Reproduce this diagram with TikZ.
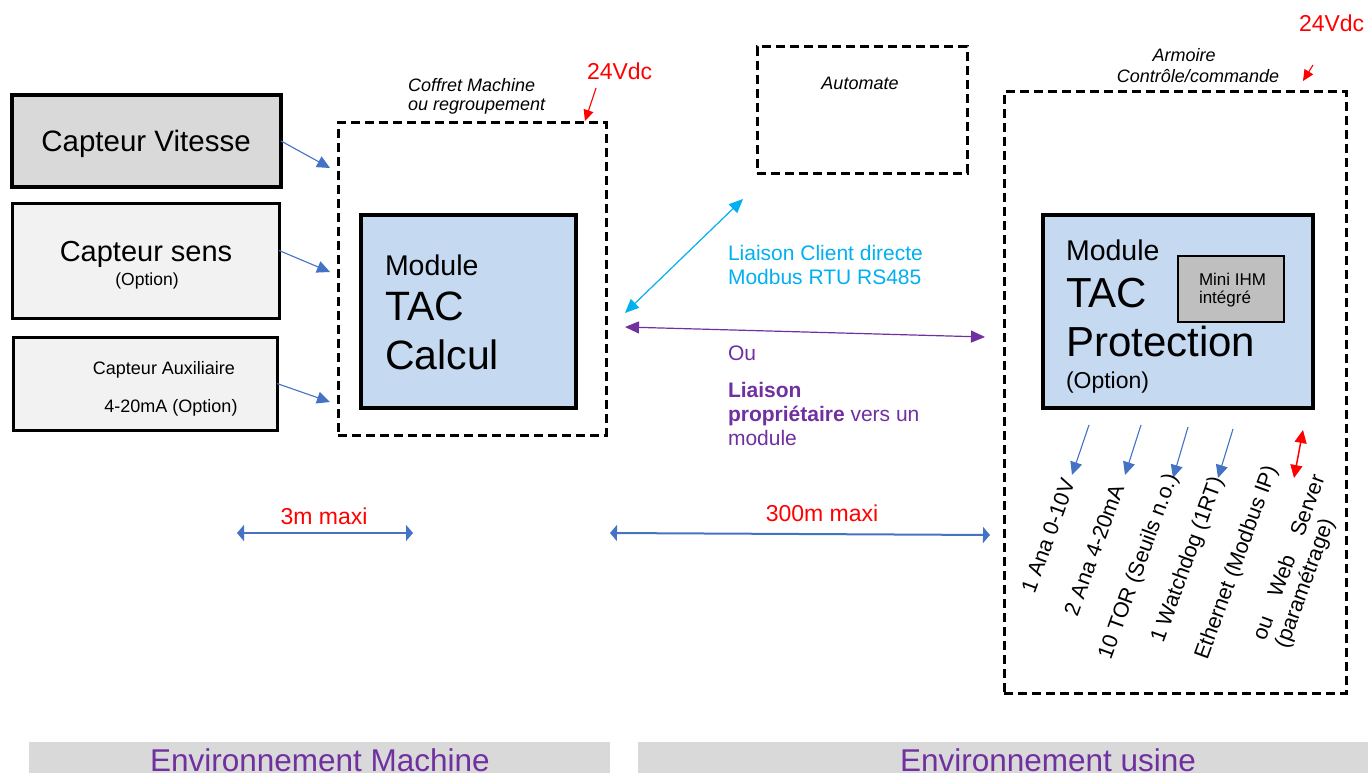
\documentclass[tikz,border=0pt]{standalone}
\usepackage{fontspec}
\setmainfont{Liberation Sans}
\usepackage{tikz}
\usetikzlibrary{arrows.meta}

\definecolor{sigblue}{HTML}{4472C4}
\definecolor{linkcyan}{HTML}{00B0F0}
\definecolor{linkpurple}{HTML}{7030A0}
\definecolor{boxgray}{HTML}{D9D9D9}
\definecolor{boxlight}{HTML}{F2F2F2}
\definecolor{modblue}{HTML}{C5D9F1}
\definecolor{ihmgray}{HTML}{BFBFBF}

\newcommand{\fsz}[1]{\fontsize{#1}{#1}\selectfont}

\begin{document}
\begin{tikzpicture}[x=1pt,y=-1pt,>={Triangle[length=13pt,width=12pt]},
  every node/.style={inner sep=0pt,outer sep=0pt},
  sensor/.style={draw,line width=3pt,fill=boxlight},
  module/.style={draw,line width=4.5pt,fill=modblue},
  cabinet/.style={draw,line width=3pt,dash pattern=on 9pt off 5pt},
  sig/.style={->,sigblue,line width=1.1pt},
  pow/.style={->,red,line width=1.1pt,>={Triangle[length=11pt,width=10pt]}},
  dist/.style={<->,sigblue,line width=2pt,>={Triangle[length=7pt,width=16pt]}},
  txt/.style={anchor=base west},
  ctxt/.style={anchor=base},
  vlabel/.style={rotate=70,font=\fsz{21.5},align=left}]
  \useasboundingbox (0,0) rectangle (1368,773);
  \clip (0,0) rectangle (1368,773);
  \fill[white] (0,0) rectangle (1368,773);

  % capteurs
  \node[sensor,fill=boxgray,line width=4.5pt,minimum width=269pt,minimum height=92pt] (vit) at (146.5,141) {};
  \node[ctxt,font=\fsz{29.5}] (vitT) at (146,151) {Capteur Vitesse};
  \node[sensor,minimum width=267pt,minimum height=115pt] (sens) at (145.5,260.5) {};
  \node[ctxt,font=\fsz{29}] (sensT) at (146,261) {Capteur sens};
  \node[ctxt,font=\fsz{17.5}] (sensO) at (147,285) {(Option)};
  \node[sensor,minimum width=264pt,minimum height=93pt] (aux) at (145,383.5) {};
  \node[ctxt,font=\fsz{18}] (auxT) at (164,374) {Capteur Auxiliaire};
  \node[ctxt,font=\fsz{18}] (auxO) at (171,412) {4-20mA (Option)};

  % coffret machine
  \node[cabinet,minimum width=268pt,minimum height=312pt] (coffret) at (472,279) {};
  \node[txt,font=\fsz{18}\itshape] (coffT) at (408,92) {Coffret Machine};
  \node[txt,font=\fsz{18}\itshape] (coffT2) at (408,111) {ou regroupement};
  \node[txt,font=\fsz{23},red] (vdcA) at (587,80) {24Vdc};
  \node[module,minimum width=215pt,minimum height=193pt] (calc) at (468.5,311.5) {};
  \node[txt,font=\fsz{28.5}] (calcA) at (385,275) {Module};
  \node[txt,font=\fsz{41}] (calcB) at (385,320) {TAC};
  \node[txt,font=\fsz{41}] (calcC) at (385,369) {Calcul};

  \coordinate (vitin) at (330,168);
  \coordinate (sensin) at (330,272);
  \coordinate (auxin) at (330,402);
  \draw[sig] (vit.east) -- (vitin);
  \draw[sig] ([yshift=10pt]sens.east) -- (sensin);
  \draw[sig] (aux.east) -- (auxin);
  \coordinate (pwA) at (596,88);
  \coordinate (pwAe) at (585,121);
  \draw[pow] (pwA) -- (pwAe);

  % automate
  \node[cabinet,minimum width=210pt,minimum height=126pt] (plc) at (862,110) {};
  \node[ctxt,font=\fsz{18}\itshape] (plcT) at (860,90) {Automate};

  % liaisons
  \coordinate (cyA) at (625,313);
  \coordinate (cyB) at (743,199);
  \draw[<->,linkcyan,line width=1.2pt,>={Triangle[length=14pt,width=12pt]}] (cyA) -- (cyB);
  \coordinate (puA) at (625,327);
  \coordinate (puB) at (985,337);
  \draw[<->,linkpurple,line width=1.2pt,>={Triangle[length=14pt,width=12pt]}] (puA) -- (puB);
  \node[txt,font=\fsz{21},linkcyan] (lcA) at (728,260) {Liaison Client directe};
  \node[txt,font=\fsz{21},linkcyan] (lcB) at (728,284) {Modbus RTU RS485};
  \node[txt,font=\fsz{21},linkpurple] (ouT) at (728,360) {Ou};
  \node[txt,font=\fsz{21}\bfseries,linkpurple] (lpA) at (728,397) {Liaison};
  \node[txt,font=\fsz{21},linkpurple] (lpB) at (728,421) {\textbf{propriétaire} vers un};
  \node[txt,font=\fsz{21},linkpurple] (lpC) at (728,445) {module};

  % armoire
  \node[cabinet,minimum width=342pt,minimum height=601pt] (armoire) at (1175,392.5) {};
  \node[ctxt,font=\fsz{18}\itshape] (armT) at (1184,62) {Armoire};
  \node[ctxt,font=\fsz{18}\itshape] (armT2) at (1198,83) {Contrôle/commande};
  \node[txt,font=\fsz{23},red] (vdcB) at (1299,32) {24Vdc};
  \coordinate (pwB) at (1313,65);
  \coordinate (pwBe) at (1303,81);
  \draw[pow] (pwB) -- (pwBe);
  \node[module,minimum width=270pt,minimum height=193pt] (prot) at (1178,311.5) {};
  \node[txt,font=\fsz{28.5}] (protA) at (1066,260) {Module};
  \node[txt,font=\fsz{42}] (protB) at (1066,307) {TAC};
  \node[txt,font=\fsz{42}] (protC) at (1066,356) {Protection};
  \node[txt,font=\fsz{23}] (protD) at (1066,388) {(Option)};
  \node[draw,line width=2pt,fill=ihmgray,minimum width=106pt,minimum height=66pt] (ihm) at (1231,289) {};
  \node[txt,font=\fsz{17}] (ihmA) at (1199,285) {Mini IHM};
  \node[txt,font=\fsz{17}] (ihmB) at (1199,303) {intégré};

  % sorties
  \foreach \i/\xa/\ya/\xb/\yb in {1/1089/425/1072/475,2/1141/425/1125/475,3/1188/427/1173/478,4/1233/429/1218/478}{
    \coordinate (out\i) at (\xa,\ya);
    \coordinate (out\i e) at (\xb,\yb);
    \draw[sig] (out\i) -- (out\i e);
  }
  \coordinate (web) at (1303,430);
  \coordinate (webe) at (1294,478);
  \draw[<->,red,line width=1.5pt,>={Triangle[length=13pt,width=12pt]}] (web) -- (webe);
  \node[vlabel] (oA) at (1048,536) {1 Ana 0-10V};
  \node[vlabel] (oB) at (1094,550) {2 Ana 4-20mA};
  \node[vlabel] (oC) at (1139,567) {10 TOR (Seuils n.o.)};
  \node[vlabel] (oD) at (1188,560) {1 Watchdog (1RT)};
  \node[vlabel] (oE) at (1237,563) {Ethernet (Modbus IP)};
  \node[vlabel] (oF) at (1301,562) {ou\hspace{1em}Web\hspace{1em}Server\\[2pt](paramétrage)};

  % distances
  \node[ctxt,font=\fsz{23},red] (dA) at (324,524) {3m maxi};
  \coordinate (dAl) at (237,533);
  \coordinate (dAr) at (413,533);
  \draw[dist] (dAl) -- (dAr);
  \node[ctxt,font=\fsz{23},red] (dB) at (822,521) {300m maxi};
  \coordinate (dBl) at (610,533);
  \coordinate (dBr) at (990,535);
  \draw[dist] (dBl) -- (dBr);

  % environnements
  \node[fill=boxgray,minimum width=581pt,minimum height=48pt] (envM) at (319.5,766) {};
  \node[ctxt,font=\fsz{31.5},linkpurple] (envMT) at (320,771) {Environnement Machine};
  \node[fill=boxgray,minimum width=742pt,minimum height=48pt] (envU) at (1009,766) {};
  \node[ctxt,font=\fsz{31.5},linkpurple] (envUT) at (1048,771) {Environnement usine};
\end{tikzpicture}
\end{document}
